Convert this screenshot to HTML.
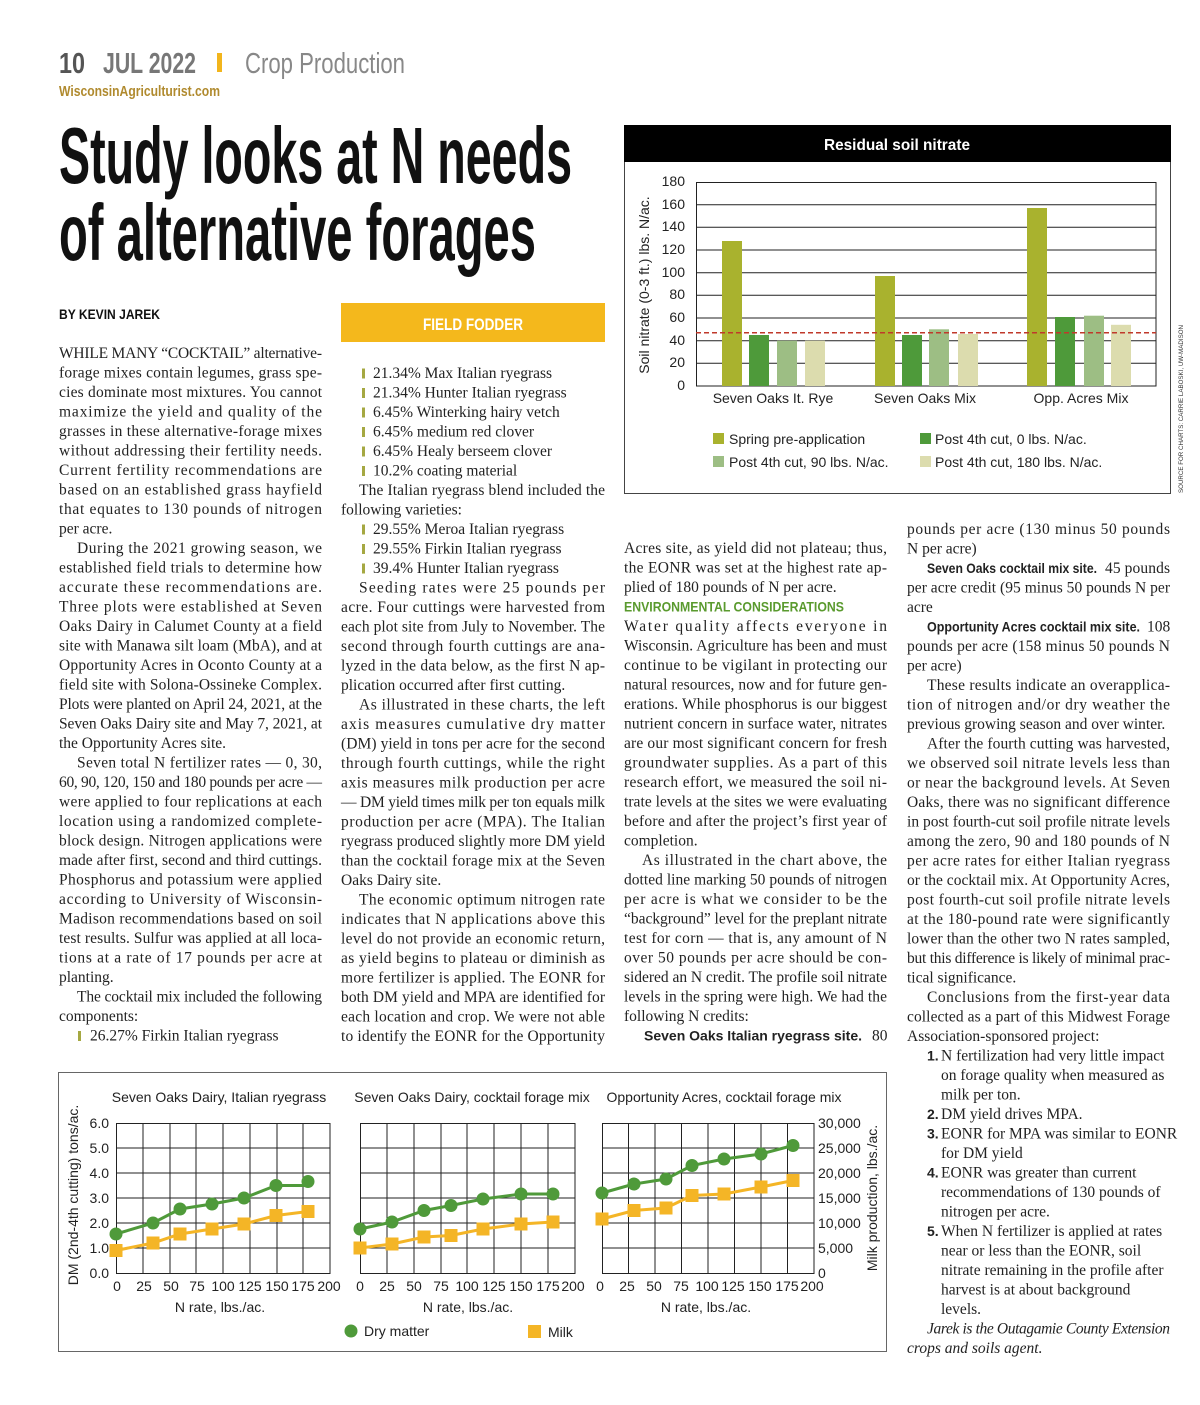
<!DOCTYPE html>
<html><head><meta charset="utf-8">
<style>
html,body{margin:0;padding:0;background:#fff;}
svg{display:block;}
.b{font-family:"Liberation Serif",serif;font-size:15.5px;fill:#222;}
.s{font-family:"Liberation Sans Narrow","Liberation Sans",sans-serif;}
.bd{font-family:"Liberation Sans Narrow","Liberation Sans",sans-serif;font-weight:bold;font-size:14px;}
.ax{font-family:"Liberation Sans Narrow","Liberation Sans",sans-serif;font-size:14px;fill:#222;}
</style></head><body>
<svg width="1200" height="1405" viewBox="0 0 1200 1405" xmlns="http://www.w3.org/2000/svg">
<rect width="1200" height="1405" fill="#fff"/>
<!-- header -->
<text x="59" y="73" class="s" font-weight="bold" font-size="29" fill="#555" textLength="26" lengthAdjust="spacingAndGlyphs">10</text>
<text x="103" y="73" class="s" font-weight="bold" font-size="29" fill="#777" textLength="93" lengthAdjust="spacingAndGlyphs">JUL 2022</text>
<rect x="217" y="53" width="5" height="19" fill="#f2b51c"/>
<text x="245" y="73" class="s" font-size="29" fill="#888" textLength="160" lengthAdjust="spacingAndGlyphs">Crop Production</text>
<text x="59" y="96" class="s" font-weight="bold" font-size="15" fill="#b08a2e" textLength="161" lengthAdjust="spacingAndGlyphs">WisconsinAgriculturist.com</text>
<text x="59" y="183" class="s" font-weight="bold" font-size="80" fill="#111" textLength="513" lengthAdjust="spacingAndGlyphs">Study looks at N needs</text>
<text x="59" y="260" class="s" font-weight="bold" font-size="80" fill="#111" textLength="477" lengthAdjust="spacingAndGlyphs">of alternative forages</text>
<text x="59" y="319" class="s" font-weight="bold" font-size="14" fill="#111" textLength="101" lengthAdjust="spacingAndGlyphs">BY KEVIN JAREK</text>
<rect x="341" y="303" width="264" height="39" fill="#f4b81c"/>
<text x="473" y="330" class="s" font-weight="bold" font-size="17" fill="#fff" text-anchor="middle" textLength="100" lengthAdjust="spacingAndGlyphs">FIELD FODDER</text>

<!-- col1 -->
<g transform="translate(59,358)" class="b">
<text y="0" textLength="263" lengthAdjust="spacing">WHILE MANY “COCKTAIL” alternative-</text>
<text y="19.5" textLength="263" lengthAdjust="spacing">forage mixes contain legumes, grass spe-</text>
<text y="39" textLength="263" lengthAdjust="spacing">cies dominate most mixtures. You cannot</text>
<text y="58.5" textLength="263" lengthAdjust="spacing">maximize the yield and quality of the</text>
<text y="78" textLength="263" lengthAdjust="spacing">grasses in these alternative-forage mixes</text>
<text y="97.5" textLength="263" lengthAdjust="spacing">without addressing their fertility needs.</text>
<text y="117" textLength="263" lengthAdjust="spacing">Current fertility recommendations are</text>
<text y="136.5" textLength="263" lengthAdjust="spacing">based on an established grass hayfield</text>
<text y="156" textLength="263" lengthAdjust="spacing">that equates to 130 pounds of nitrogen</text>
<text y="175.5">per acre.</text>
<text x="18" y="195" textLength="245" lengthAdjust="spacing">During the 2021 growing season, we</text>
<text y="214.5" textLength="263" lengthAdjust="spacing">established field trials to determine how</text>
<text y="234" textLength="263" lengthAdjust="spacing">accurate these recommendations are.</text>
<text y="253.5" textLength="263" lengthAdjust="spacing">Three plots were established at Seven</text>
<text y="273" textLength="263" lengthAdjust="spacing">Oaks Dairy in Calumet County at a field</text>
<text y="292.5" textLength="263" lengthAdjust="spacing">site with Manawa silt loam (MbA), and at</text>
<text y="312" textLength="263" lengthAdjust="spacing">Opportunity Acres in Oconto County at a</text>
<text y="331.5" textLength="263" lengthAdjust="spacing">field site with Solona-Ossineke Complex.</text>
<text y="351" textLength="263" lengthAdjust="spacing">Plots were planted on April 24, 2021, at the</text>
<text y="370.5" textLength="263" lengthAdjust="spacing">Seven Oaks Dairy site and May 7, 2021, at</text>
<text y="390">the Opportunity Acres site.</text>
<text x="18" y="409.5" textLength="245" lengthAdjust="spacing">Seven total N fertilizer rates — 0, 30,</text>
<text y="429" textLength="263" lengthAdjust="spacing">60, 90, 120, 150 and 180 pounds per acre —</text>
<text y="448.5" textLength="263" lengthAdjust="spacing">were applied to four replications at each</text>
<text y="468" textLength="263" lengthAdjust="spacing">location using a randomized complete-</text>
<text y="487.5" textLength="263" lengthAdjust="spacing">block design. Nitrogen applications were</text>
<text y="507" textLength="263" lengthAdjust="spacing">made after first, second and third cuttings.</text>
<text y="526.5" textLength="263" lengthAdjust="spacing">Phosphorus and potassium were applied</text>
<text y="546" textLength="263" lengthAdjust="spacing">according to University of Wisconsin-</text>
<text y="565.5" textLength="263" lengthAdjust="spacing">Madison recommendations based on soil</text>
<text y="585" textLength="263" lengthAdjust="spacing">test results. Sulfur was applied at all loca-</text>
<text y="604.5" textLength="263" lengthAdjust="spacing">tions at a rate of 17 pounds per acre at</text>
<text y="624">planting.</text>
<text x="18" y="643.5" textLength="245" lengthAdjust="spacing">The cocktail mix included the following</text>
<text y="663">components:</text>
<rect x="19" y="673" width="3" height="10" fill="#a5a842"/>
<text x="31" y="682.5">26.27% Firkin Italian ryegrass</text>
</g>

<!-- col2 -->
<g transform="translate(341,378)" class="b">
<g fill="#a5a842">
<rect x="21" y="-9.5" width="3" height="10"/><rect x="21" y="10" width="3" height="10"/><rect x="21" y="29.5" width="3" height="10"/>
<rect x="21" y="49" width="3" height="10"/><rect x="21" y="68.5" width="3" height="10"/><rect x="21" y="88" width="3" height="10"/>
<rect x="21" y="146.5" width="3" height="10"/><rect x="21" y="166" width="3" height="10"/><rect x="21" y="185.5" width="3" height="10"/>
</g>
<text x="32" y="0">21.34% Max Italian ryegrass</text>
<text x="32" y="19.5">21.34% Hunter Italian ryegrass</text>
<text x="32" y="39">6.45% Winterking hairy vetch</text>
<text x="32" y="58.5">6.45% medium red clover</text>
<text x="32" y="78">6.45% Healy berseem clover</text>
<text x="32" y="97.5">10.2% coating material</text>
<text x="18" y="117" textLength="246" lengthAdjust="spacing">The Italian ryegrass blend included the</text>
<text y="136.5">following varieties:</text>
<text x="32" y="156">29.55% Meroa Italian ryegrass</text>
<text x="32" y="175.5">29.55% Firkin Italian ryegrass</text>
<text x="32" y="195">39.4% Hunter Italian ryegrass</text>
<text x="18" y="214.5" textLength="246" lengthAdjust="spacing">Seeding rates were 25 pounds per</text>
<text y="234" textLength="264" lengthAdjust="spacing">acre. Four cuttings were harvested from</text>
<text y="253.5" textLength="264" lengthAdjust="spacing">each plot site from July to November. The</text>
<text y="273" textLength="264" lengthAdjust="spacing">second through fourth cuttings are ana-</text>
<text y="292.5" textLength="264" lengthAdjust="spacing">lyzed in the data below, as the first N ap-</text>
<text y="312">plication occurred after first cutting.</text>
<text x="18" y="331.5" textLength="246" lengthAdjust="spacing">As illustrated in these charts, the left</text>
<text y="351" textLength="264" lengthAdjust="spacing">axis measures cumulative dry matter</text>
<text y="370.5" textLength="264" lengthAdjust="spacing">(DM) yield in tons per acre for the second</text>
<text y="390" textLength="264" lengthAdjust="spacing">through fourth cuttings, while the right</text>
<text y="409.5" textLength="264" lengthAdjust="spacing">axis measures milk production per acre</text>
<text y="429" textLength="264" lengthAdjust="spacing">— DM yield times milk per ton equals milk</text>
<text y="448.5" textLength="264" lengthAdjust="spacing">production per acre (MPA). The Italian</text>
<text y="468" textLength="264" lengthAdjust="spacing">ryegrass produced slightly more DM yield</text>
<text y="487.5" textLength="264" lengthAdjust="spacing">than the cocktail forage mix at the Seven</text>
<text y="507">Oaks Dairy site.</text>
<text x="18" y="526.5" textLength="246" lengthAdjust="spacing">The economic optimum nitrogen rate</text>
<text y="546" textLength="264" lengthAdjust="spacing">indicates that N applications above this</text>
<text y="565.5" textLength="264" lengthAdjust="spacing">level do not provide an economic return,</text>
<text y="585" textLength="264" lengthAdjust="spacing">as yield begins to plateau or diminish as</text>
<text y="604.5" textLength="264" lengthAdjust="spacing">more fertilizer is applied. The EONR for</text>
<text y="624" textLength="264" lengthAdjust="spacing">both DM yield and MPA are identified for</text>
<text y="643.5" textLength="264" lengthAdjust="spacing">each location and crop. We were not able</text>
<text y="663" textLength="264" lengthAdjust="spacing">to identify the EONR for the Opportunity</text>
</g>

<!-- col3 -->
<g transform="translate(624,553)" class="b">
<text y="0" textLength="263" lengthAdjust="spacing">Acres site, as yield did not plateau; thus,</text>
<text y="19.5" textLength="263" lengthAdjust="spacing">the EONR was set at the highest rate ap-</text>
<text y="39">plied of 180 pounds of N per acre.</text>
<text y="58.5" class="bd" fill="#5a9a2e" textLength="220" lengthAdjust="spacingAndGlyphs">ENVIRONMENTAL CONSIDERATIONS</text>
<text y="78" textLength="263" lengthAdjust="spacing">Water quality affects everyone in</text>
<text y="97.5" textLength="263" lengthAdjust="spacing">Wisconsin. Agriculture has been and must</text>
<text y="117" textLength="263" lengthAdjust="spacing">continue to be vigilant in protecting our</text>
<text y="136.5" textLength="263" lengthAdjust="spacing">natural resources, now and for future gen-</text>
<text y="156" textLength="263" lengthAdjust="spacing">erations. While phosphorus is our biggest</text>
<text y="175.5" textLength="263" lengthAdjust="spacing">nutrient concern in surface water, nitrates</text>
<text y="195" textLength="263" lengthAdjust="spacing">are our most significant concern for fresh</text>
<text y="214.5" textLength="263" lengthAdjust="spacing">groundwater supplies. As a part of this</text>
<text y="234" textLength="263" lengthAdjust="spacing">research effort, we measured the soil ni-</text>
<text y="253.5" textLength="263" lengthAdjust="spacing">trate levels at the sites we were evaluating</text>
<text y="273" textLength="263" lengthAdjust="spacing">before and after the project’s first year of</text>
<text y="292.5">completion.</text>
<text x="18" y="312" textLength="245" lengthAdjust="spacing">As illustrated in the chart above, the</text>
<text y="331.5" textLength="263" lengthAdjust="spacing">dotted line marking 50 pounds of nitrogen</text>
<text y="351" textLength="263" lengthAdjust="spacing">per acre is what we consider to be the</text>
<text y="370.5" textLength="263" lengthAdjust="spacing">“background” level for the preplant nitrate</text>
<text y="390" textLength="263" lengthAdjust="spacing">test for corn — that is, any amount of N</text>
<text y="409.5" textLength="263" lengthAdjust="spacing">over 50 pounds per acre should be con-</text>
<text y="429" textLength="263" lengthAdjust="spacing">sidered an N credit. The profile soil nitrate</text>
<text y="448.5" textLength="263" lengthAdjust="spacing">levels in the spring were high. We had the</text>
<text y="468">following N credits:</text>
<text x="20" y="487.5" class="bd" textLength="218" lengthAdjust="spacingAndGlyphs">Seven Oaks Italian ryegrass site.</text>
<text x="248" y="487.5">80</text>
</g>

<!-- col4 -->
<g transform="translate(907,534)" class="b">
<text y="0" textLength="263" lengthAdjust="spacing">pounds per acre (130 minus 50 pounds</text>
<text y="19.5">N per acre)</text>
<text x="20" y="39" class="bd" textLength="170" lengthAdjust="spacingAndGlyphs">Seven Oaks cocktail mix site.</text>
<text x="198" y="39" textLength="65" lengthAdjust="spacing">45 pounds</text>
<text y="58.5" textLength="263" lengthAdjust="spacing">per acre credit (95 minus 50 pounds N per</text>
<text y="78">acre</text>
<text x="20" y="97.5" class="bd" textLength="213" lengthAdjust="spacingAndGlyphs">Opportunity Acres cocktail mix site.</text>
<text x="240" y="97.5">108</text>
<text y="117" textLength="263" lengthAdjust="spacing">pounds per acre (158 minus 50 pounds N</text>
<text y="136.5">per acre)</text>
<text x="20" y="156" textLength="243" lengthAdjust="spacing">These results indicate an overapplica-</text>
<text y="175.5" textLength="263" lengthAdjust="spacing">tion of nitrogen and/or dry weather the</text>
<text y="195">previous growing season and over winter.</text>
<text x="20" y="214.5" textLength="243" lengthAdjust="spacing">After the fourth cutting was harvested,</text>
<text y="234" textLength="263" lengthAdjust="spacing">we observed soil nitrate levels less than</text>
<text y="253.5" textLength="263" lengthAdjust="spacing">or near the background levels. At Seven</text>
<text y="273" textLength="263" lengthAdjust="spacing">Oaks, there was no significant difference</text>
<text y="292.5" textLength="263" lengthAdjust="spacing">in post fourth-cut soil profile nitrate levels</text>
<text y="312" textLength="263" lengthAdjust="spacing">among the zero, 90 and 180 pounds of N</text>
<text y="331.5" textLength="263" lengthAdjust="spacing">per acre rates for either Italian ryegrass</text>
<text y="351" textLength="263" lengthAdjust="spacing">or the cocktail mix. At Opportunity Acres,</text>
<text y="370.5" textLength="263" lengthAdjust="spacing">post fourth-cut soil profile nitrate levels</text>
<text y="390" textLength="263" lengthAdjust="spacing">at the 180-pound rate were significantly</text>
<text y="409.5" textLength="263" lengthAdjust="spacing">lower than the other two N rates sampled,</text>
<text y="429" textLength="263" lengthAdjust="spacing">but this difference is likely of minimal prac-</text>
<text y="448.5">tical significance.</text>
<text x="20" y="468" textLength="243" lengthAdjust="spacing">Conclusions from the first-year data</text>
<text y="487.5" textLength="263" lengthAdjust="spacing">collected as a part of this Midwest Forage</text>
<text y="507">Association-sponsored project:</text>
<g class="bd">
<text x="20" y="526.5">1.</text><text x="20" y="585">2.</text><text x="20" y="604.5">3.</text><text x="20" y="643.5">4.</text><text x="20" y="702">5.</text>
</g>
<text x="34" y="526.5">N fertilization had very little impact</text>
<text x="34" y="546">on forage quality when measured as</text>
<text x="34" y="565.5">milk per ton.</text>
<text x="34" y="585">DM yield drives MPA.</text>
<text x="34" y="604.5">EONR for MPA was similar to EONR</text>
<text x="34" y="624">for DM yield</text>
<text x="34" y="643.5">EONR was greater than current</text>
<text x="34" y="663">recommendations of 130 pounds of</text>
<text x="34" y="682.5">nitrogen per acre.</text>
<text x="34" y="702">When N fertilizer is applied at rates</text>
<text x="34" y="721.5">near or less than the EONR, soil</text>
<text x="34" y="741">nitrate remaining in the profile after</text>
<text x="34" y="760.5">harvest is at about background</text>
<text x="34" y="780">levels.</text>
<text x="20" y="799.5" font-style="italic" textLength="243" lengthAdjust="spacing">Jarek is the Outagamie County Extension</text>
<text y="819" font-style="italic">crops and soils agent.</text>
</g>

<!-- Bar chart -->
<rect x="624.5" y="125.5" width="546" height="368" fill="#fff" stroke="#444" stroke-width="1"/>
<rect x="624" y="125" width="547" height="37" fill="#000"/>
<text x="897" y="150" class="s" font-weight="bold" font-size="16" fill="#fff" text-anchor="middle" textLength="146" lengthAdjust="spacingAndGlyphs">Residual soil nitrate</text>
<g stroke="#222" stroke-width="1">
<line x1="696" y1="204.7" x2="1156" y2="204.7"/><line x1="696" y1="227.3" x2="1156" y2="227.3"/>
<line x1="696" y1="250" x2="1156" y2="250"/><line x1="696" y1="272.7" x2="1156" y2="272.7"/>
<line x1="696" y1="295.3" x2="1156" y2="295.3"/><line x1="696" y1="318" x2="1156" y2="318"/>
<line x1="696" y1="340.7" x2="1156" y2="340.7"/><line x1="696" y1="363.3" x2="1156" y2="363.3"/>
</g>
<rect x="696.5" y="182.5" width="459.5" height="203.5" fill="none" stroke="#222" stroke-width="1"/>
<g>
<rect x="722" y="241" width="20" height="145" fill="#a9b22e"/>
<rect x="749" y="335" width="20" height="51" fill="#4e9a3a"/>
<rect x="777" y="340.7" width="20" height="45.3" fill="#9dbe84"/>
<rect x="805" y="340.7" width="20" height="45.3" fill="#dcdcae"/>
<rect x="875" y="276" width="20" height="110" fill="#a9b22e"/>
<rect x="902" y="335" width="20" height="51" fill="#4e9a3a"/>
<rect x="929" y="329.3" width="20" height="56.7" fill="#9dbe84"/>
<rect x="958" y="334" width="20" height="52" fill="#dcdcae"/>
<rect x="1027" y="208" width="20" height="178" fill="#a9b22e"/>
<rect x="1055" y="317" width="20" height="69" fill="#4e9a3a"/>
<rect x="1084" y="315.7" width="20" height="70.3" fill="#9dbe84"/>
<rect x="1111" y="324.8" width="20" height="61.2" fill="#dcdcae"/>
</g>
<line x1="696" y1="332.7" x2="1156" y2="332.7" stroke="#c0392b" stroke-width="1.5" stroke-dasharray="5,3"/>
<g class="ax" text-anchor="end">
<text x="685" y="186">180</text><text x="685" y="209">160</text><text x="685" y="231">140</text>
<text x="685" y="254">120</text><text x="685" y="277">100</text><text x="685" y="299">80</text>
<text x="685" y="322">60</text><text x="685" y="345">40</text><text x="685" y="367">20</text><text x="685" y="390">0</text>
</g>
<text transform="translate(649,285) rotate(-90)" class="ax" text-anchor="middle">Soil nitrate (0-3 ft.) lbs. N/ac.</text>
<g class="ax" text-anchor="middle">
<text x="773" y="403">Seven Oaks It. Rye</text><text x="925" y="403">Seven Oaks Mix</text><text x="1081" y="403">Opp. Acres Mix</text>
</g>
<rect x="713" y="433" width="11" height="11" fill="#a9b22e"/>
<rect x="713" y="456" width="11" height="11" fill="#9dbe84"/>
<rect x="920" y="433" width="11" height="11" fill="#4e9a3a"/>
<rect x="920" y="456" width="11" height="11" fill="#dcdcae"/>
<g class="ax">
<text x="729" y="444">Spring pre-application</text><text x="729" y="467">Post 4th cut, 90 lbs. N/ac.</text>
<text x="935" y="444">Post 4th cut, 0 lbs. N/ac.</text><text x="935" y="467">Post 4th cut, 180 lbs. N/ac.</text>
</g>
<text transform="translate(1183,493) rotate(-90)" class="s" font-size="6" fill="#333" textLength="168" lengthAdjust="spacingAndGlyphs">SOURCE FOR CHARTS: CARRIE LABOSKI, UW-MADISON</text>

<!-- Line charts -->
<rect x="58.5" y="1072.5" width="828" height="279" fill="#fff" stroke="#666" stroke-width="1"/>
<rect x="116.5" y="1123.5" width="213.5" height="150" fill="none" stroke="#222"/>
<g stroke="#222" stroke-width="1">
<path d="M116 1148H330M116 1173H330M116 1198H330M116 1223H330M116 1248H330"/>
<path d="M143 1123V1273M170 1123V1273M196 1123V1273M223 1123V1273M250 1123V1273M277 1123V1273M303 1123V1273"/>
<path d="M360 1148H575M360 1173H575M360 1198H575M360 1223H575M360 1248H575"/>
<path d="M387 1123V1273M414 1123V1273M441 1123V1273M467 1123V1273M494 1123V1273M521 1123V1273M548 1123V1273"/>
<path d="M602 1148H814M602 1173H814M602 1198H814M602 1223H814M602 1248H814"/>
<path d="M628.5 1123V1273M655 1123V1273M681.5 1123V1273M708 1123V1273M734.5 1123V1273M761 1123V1273M787.5 1123V1273"/>
</g>
<rect x="360.5" y="1123.5" width="214.5" height="150" fill="none" stroke="#222"/>
<rect x="602.5" y="1123.5" width="211.5" height="150" fill="none" stroke="#222"/>
<g fill="none" stroke-width="3">
<polyline stroke="#4f9a3a" points="116,1234 153,1223 180,1209 212,1204 244,1198 276,1185.5 308,1185.5"/>
<polyline stroke="#f4b526" points="116,1250.5 153,1243 180,1234 212,1229 244,1224 276,1215.5 308,1211.5"/>
<polyline stroke="#4f9a3a" points="360,1229 392,1222 424,1210.5 451,1205.5 483,1199 521,1194 553,1194"/>
<polyline stroke="#f4b526" points="360,1248 392,1244 424,1237 451,1235.5 483,1229 521,1224 553,1222"/>
<polyline stroke="#4f9a3a" points="602,1193 634,1184 666,1179 692,1165.5 724,1159 761,1154 793,1145.5"/>
<polyline stroke="#f4b526" points="602,1219 634,1210.5 666,1208 692,1195.5 724,1194 761,1187 793,1180.5"/>
</g>
<g fill="#4f9a3a">
<circle cx="116" cy="1234" r="6.5"/><circle cx="153" cy="1223" r="6.5"/><circle cx="180" cy="1209" r="6.5"/><circle cx="212" cy="1204" r="6.5"/><circle cx="244" cy="1198" r="6.5"/><circle cx="276" cy="1185.5" r="6.5"/><circle cx="308" cy="1181.5" r="6.5"/>
<circle cx="360" cy="1229" r="6.5"/><circle cx="392" cy="1222" r="6.5"/><circle cx="424" cy="1210.5" r="6.5"/><circle cx="451" cy="1205.5" r="6.5"/><circle cx="483" cy="1199" r="6.5"/><circle cx="521" cy="1194" r="6.5"/><circle cx="553" cy="1194" r="6.5"/>
<circle cx="602" cy="1193" r="6.5"/><circle cx="634" cy="1184" r="6.5"/><circle cx="666" cy="1179" r="6.5"/><circle cx="692" cy="1165.5" r="6.5"/><circle cx="724" cy="1159" r="6.5"/><circle cx="761" cy="1154" r="6.5"/><circle cx="793" cy="1145.5" r="6.5"/>
</g>
<g fill="#f4b526">
<rect x="109.5" y="1244" width="13" height="13"/><rect x="146.5" y="1236.5" width="13" height="13"/><rect x="173.5" y="1227.5" width="13" height="13"/><rect x="205.5" y="1222.5" width="13" height="13"/><rect x="237.5" y="1217.5" width="13" height="13"/><rect x="269.5" y="1209" width="13" height="13"/><rect x="301.5" y="1205" width="13" height="13"/>
<rect x="353.5" y="1241.5" width="13" height="13"/><rect x="385.5" y="1237.5" width="13" height="13"/><rect x="417.5" y="1230.5" width="13" height="13"/><rect x="444.5" y="1229" width="13" height="13"/><rect x="476.5" y="1222.5" width="13" height="13"/><rect x="514.5" y="1217.5" width="13" height="13"/><rect x="546.5" y="1215.5" width="13" height="13"/>
<rect x="595.5" y="1212.5" width="13" height="13"/><rect x="627.5" y="1204" width="13" height="13"/><rect x="659.5" y="1201.5" width="13" height="13"/><rect x="685.5" y="1189" width="13" height="13"/><rect x="717.5" y="1187.5" width="13" height="13"/><rect x="754.5" y="1180.5" width="13" height="13"/><rect x="786.5" y="1174" width="13" height="13"/>
</g>
<g class="ax" text-anchor="middle">
<text x="219" y="1102">Seven Oaks Dairy, Italian ryegrass</text>
<text x="472" y="1102">Seven Oaks Dairy, cocktail forage mix</text>
<text x="724" y="1102">Opportunity Acres, cocktail forage mix</text>
<text x="220" y="1312">N rate, lbs./ac.</text>
<text x="468" y="1312">N rate, lbs./ac.</text>
<text x="706" y="1312">N rate, lbs./ac.</text>
</g>
<g class="ax" text-anchor="end">
<text x="109" y="1128">6.0</text><text x="109" y="1153">5.0</text><text x="109" y="1178">4.0</text><text x="109" y="1203">3.0</text><text x="109" y="1228">2.0</text><text x="109" y="1253">1.0</text><text x="109" y="1278">0.0</text>
</g>
<g class="ax">
<text x="818" y="1128">30,000</text><text x="818" y="1153">25,000</text><text x="818" y="1178">20,000</text><text x="818" y="1203">15,000</text><text x="818" y="1228">10,000</text><text x="818" y="1253">5,000</text><text x="818" y="1278">0</text>
</g>
<g class="ax" text-anchor="middle">
<text x="117" y="1291">0</text><text x="144" y="1291">25</text><text x="171" y="1291">50</text><text x="197" y="1291">75</text><text x="223" y="1291">100</text><text x="250" y="1291">125</text><text x="277" y="1291">150</text><text x="303" y="1291">175</text><text x="329" y="1291">200</text>
<text x="360" y="1291">0</text><text x="387" y="1291">25</text><text x="414" y="1291">50</text><text x="441" y="1291">75</text><text x="467" y="1291">100</text><text x="494" y="1291">125</text><text x="521" y="1291">150</text><text x="548" y="1291">175</text><text x="573" y="1291">200</text>
<text x="600" y="1291">0</text><text x="627" y="1291">25</text><text x="654" y="1291">50</text><text x="681" y="1291">75</text><text x="707" y="1291">100</text><text x="733" y="1291">125</text><text x="760" y="1291">150</text><text x="787" y="1291">175</text><text x="812" y="1291">200</text>
</g>
<text transform="translate(78,1195) rotate(-90)" class="ax" text-anchor="middle">DM (2nd-4th cutting) tons/ac.</text>
<text transform="translate(877,1198) rotate(-90)" class="ax" text-anchor="middle">Milk production, lbs./ac.</text>
<circle cx="351" cy="1331" r="6.5" fill="#4f9a3a"/>
<text x="364" y="1336" class="ax">Dry matter</text>
<rect x="528" y="1325" width="13" height="13" fill="#f4b526"/>
<text x="548" y="1337" class="ax">Milk</text>
</svg>
</body></html>
